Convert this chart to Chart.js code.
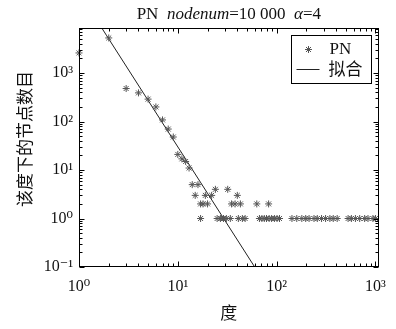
<!DOCTYPE html>
<html>
<head>
<meta charset="utf-8">
<script src="https://cdn.jsdelivr.net/npm/chart.js@4.4.1/dist/chart.umd.min.js"></script>
<style>
  html, body { margin: 0; padding: 0; background: #fff; }
</style>
</head>
<body>
<canvas id="degree-chart" width="396" height="329"></canvas>
<script>
// PN degree distribution
const pnDegree = [
  1, 2, 3, 4, 5, 6, 7, 8, 9, 10, 11, 12, 13,
  14, 16, 15, 19, 22, 24, 32, 40,
  17, 18, 20, 35, 38, 43, 63, 83,
  17, 25, 27, 29, 31, 34, 41, 45, 48,
  67, 71, 75, 79, 84, 89, 95, 101, 107,
  143, 160, 180, 197, 213, 239, 258, 285, 313, 346, 374, 410,
  529, 571, 627, 693, 778, 841, 944, 1000
];
const pnCount = [
  2600, 5300, 480, 390, 290, 200, 108, 70, 48, 21, 17, 15, 11,
  5, 5, 3, 3, 3, 4, 4, 3,
  2, 2, 2, 2, 2, 2, 2, 2,
  1, 1, 1, 1, 1, 1, 1, 1, 1,
  1, 1, 1, 1, 1, 1, 1, 1, 1,
  1, 1, 1, 1, 1, 1, 1, 1, 1, 1, 1, 1,
  1, 1, 1, 1, 1, 1, 1, 1
];

// fitted power law, two ends of the straight line
const fitDegree = [1.7, 60];
const fitCount = [8500, 0.1];

const xMajorTicks = [1, 10, 100, 1000];
const xMajorLabels = ['10⁰', '10¹', '10²', '10³'];
const yMajorTicks = [0.1, 1, 10, 100, 1000];
const yMajorLabels = ['10⁻¹', '10⁰', '10¹', '10²', '10³'];

const titleParts = [
  ['PN', false], ['  ', false], ['nodenum', true], ['=10 000', false],
  ['  ', false], ['α', true], ['=4', false]
];
const legendLabels = ['PN', '拟合'];

const SERIF = "'Liberation Serif', 'DejaVu Serif', serif";
const CJK = "'Noto Sans CJK SC', sans-serif";

function withMinors(majors, max) {
  const values = [];
  majors.forEach((major) => {
    for (let k = 1; k <= 9; k += 1) {
      const value = Number((major * k).toPrecision(6));
      if (value <= max) {
        values.push(value);
      }
    }
  });
  return values;
}

function labelFor(majors, labels) {
  return (value) => {
    const index = majors.findIndex((m) => Math.abs(m - value) / m < 1e-6);
    return index >= 0 ? labels[index] : '';
  };
}

function isMajor(majors, value) {
  return majors.some((m) => Math.abs(m - value) / m < 1e-6);
}

// MATLAB-like box with inward ticks on all sides
const boxPlugin = {
  id: 'boxTicks',
  afterDatasetsDraw(chart) {
    const { ctx, chartArea: area, scales } = chart;
    const left = Math.round(area.left) + 0.5;
    const right = Math.round(area.right) - 0.5;
    const top = Math.round(area.top) + 0.5;
    const bottom = Math.round(area.bottom) - 0.5;

    ctx.save();
    ctx.strokeStyle = '#000';
    ctx.lineWidth = 1;
    ctx.strokeRect(left, top, right - left, bottom - top);

    ctx.beginPath();
    scales.x.ticks.forEach((tick) => {
      const x = Math.round(scales.x.getPixelForValue(tick.value)) + 0.5;
      const len = isMajor(xMajorTicks, tick.value) ? 5 : 3;
      ctx.moveTo(x, bottom);
      ctx.lineTo(x, bottom - len);
      ctx.moveTo(x, top);
      ctx.lineTo(x, top + len);
    });
    scales.y.ticks.forEach((tick) => {
      const y = Math.round(scales.y.getPixelForValue(tick.value)) + 0.5;
      const len = isMajor(yMajorTicks, tick.value) ? 5 : 3;
      ctx.moveTo(left, y);
      ctx.lineTo(left + len, y);
      ctx.moveTo(right, y);
      ctx.lineTo(right - len, y);
    });
    ctx.stroke();
    ctx.restore();
  },
  afterDraw(chart) {
    const { ctx, chartArea: area } = chart;

    // title with italic pieces
    ctx.save();
    ctx.fillStyle = '#111';
    ctx.textBaseline = 'middle';
    const fontOf = (italic) => `${italic ? 'italic ' : ''}17px ${SERIF}`;
    let total = 0;
    titleParts.forEach(([text, italic]) => {
      ctx.font = fontOf(italic);
      total += ctx.measureText(text).width;
    });
    let x = (area.left + area.right) / 2 - total / 2;
    titleParts.forEach(([text, italic]) => {
      ctx.font = fontOf(italic);
      ctx.textAlign = 'left';
      ctx.fillText(text, x, 15);
      x += ctx.measureText(text).width;
    });
    ctx.restore();

    // legend box
    const boxLeft = Math.round(area.right) - 87.5;
    const boxTop = Math.round(area.top) + 7.5;
    const boxWidth = 80;
    const boxHeight = 48;
    ctx.save();
    ctx.fillStyle = '#fff';
    ctx.fillRect(boxLeft, boxTop, boxWidth, boxHeight);
    ctx.strokeStyle = '#000';
    ctx.lineWidth = 1;
    ctx.strokeRect(boxLeft, boxTop, boxWidth, boxHeight);

    const row1 = boxTop + 14;
    const row2 = boxTop + 33;
    Chart.helpers.drawPoint(ctx, {
      pointStyle: 'star', radius: 3.5, rotation: 0, borderWidth: 1
    }, boxLeft + 17, row1);
    ctx.strokeStyle = '#555';
    ctx.stroke();

    ctx.beginPath();
    ctx.strokeStyle = '#222';
    ctx.moveTo(boxLeft + 5, Math.round(row2) + 0.5);
    ctx.lineTo(boxLeft + 28, Math.round(row2) + 0.5);
    ctx.stroke();

    ctx.fillStyle = '#111';
    ctx.textAlign = 'left';
    ctx.textBaseline = 'middle';
    ctx.font = `17px ${SERIF}`;
    ctx.fillText(legendLabels[0], boxLeft + 38, row1);
    ctx.font = `17px ${CJK}`;
    ctx.fillText(legendLabels[1], boxLeft + 37, row2);
    ctx.restore();
  }
};

const xTickValues = withMinors(xMajorTicks, 1000);
const yTickValues = withMinors(yMajorTicks, 8500);

new Chart(document.getElementById('degree-chart'), {
  type: 'scatter',
  data: {
    datasets: [
      {
        label: legendLabels[0],
        data: pnDegree.map((d, i) => ({ x: d, y: pnCount[i] })),
        pointStyle: 'star',
        pointRadius: 3.5,
        pointBorderWidth: 1,
        borderColor: '#555',
        backgroundColor: '#555',
        clip: false
      },
      {
        label: legendLabels[1],
        data: fitDegree.map((d, i) => ({ x: d, y: fitCount[i] })),
        showLine: true,
        pointRadius: 0,
        borderColor: '#222',
        borderWidth: 1
      }
    ]
  },
  options: {
    responsive: false,
    animation: false,
    devicePixelRatio: 1,
    layout: { padding: { top: 28, right: 16, left: 0, bottom: 0 } },
    plugins: {
      legend: { display: false },
      title: { display: false },
      tooltip: { enabled: false }
    },
    scales: {
      x: {
        type: 'logarithmic',
        min: 1,
        max: 1080,
        afterBuildTicks: (scale) => {
          scale.ticks = xTickValues.map((value) => ({ value }));
        },
        afterFit: (scale) => { scale.height = 62; },
        grid: { display: false, drawTicks: false },
        border: { display: false },
        ticks: {
          autoSkip: false,
          maxRotation: 0,
          padding: 10,
          color: '#111',
          font: { family: SERIF, size: 16 },
          callback: labelFor(xMajorTicks, xMajorLabels)
        },
        title: {
          display: true,
          text: '度',
          color: '#111',
          font: { family: CJK, size: 17 },
          padding: { top: 0, bottom: 6 }
        }
      },
      y: {
        type: 'logarithmic',
        min: 0.1,
        max: 8500,
        afterBuildTicks: (scale) => {
          scale.ticks = yTickValues.map((value) => ({ value }));
        },
        afterFit: (scale) => { scale.width = 79; },
        grid: { display: false, drawTicks: false },
        border: { display: false },
        ticks: {
          autoSkip: false,
          padding: 6,
          color: '#111',
          font: { family: SERIF, size: 16 },
          callback: labelFor(yMajorTicks, yMajorLabels)
        },
        title: {
          display: true,
          text: '　该度下的节点数目',
          color: '#111',
          font: { family: CJK, size: 17 },
          padding: { top: 14, bottom: 0 }
        }
      }
    }
  },
  plugins: [boxPlugin]
});
</script>
</body>
</html>
